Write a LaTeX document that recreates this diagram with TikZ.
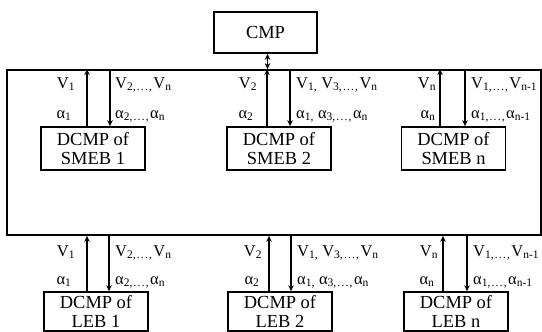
\documentclass[tikz,border=0pt]{standalone}
\usepackage{fontspec}
\setmainfont{Liberation Serif}
\usetikzlibrary{arrows.meta}

\newcommand{\sbs}[1]{\textsubscript{#1}}
\newcommand{\dts}{,\kern1.2pt.\kern1.2pt.\kern1.2pt.\kern1.2pt,\kern1pt}

\tikzset{
  blk/.style={draw,line width=1.7bp,minimum width=104bp,minimum height=43bp,
    inner sep=0pt,align=center,font=\fontsize{18.5}{19}\selectfont},
  sig/.style={line width=1.4bp},
  lbl/.style={inner sep=0pt,font=\fontsize{16.5}{17}\selectfont},
}

\begin{document}
\begin{tikzpicture}[x=1bp,y=-1bp,>={Stealth[length=6bp,width=5.5bp]}]
\clip (0,0) rectangle (542,331);
\node[blk,minimum width=103bp,minimum height=41bp] (cmp) at (265.5,32.5) {CMP};
\node[draw,line width=1.7bp,minimum width=534bp,minimum height=165bp,inner sep=0pt] (bus) at (274,152.5) {};
\draw[sig,<->] (cmp.south) ++(2,0) coordinate (c0) -- (c0 |- bus.north);

% upper blocks
\node[blk] (smeb1) at (93,148.5) {DCMP of\\SMEB 1};
\node[blk] (smeb2) at (279,148.5) {DCMP of\\SMEB 2};
\node[blk] (smebn) at (453.5,148.5) {DCMP of\\SMEB n};

\draw[sig,->] (smeb1.north) ++(-6,0) coordinate (u1) -- (u1 |- bus.north);
\draw[sig,<-] (smeb1.north) ++(17,0) coordinate (d1) -- (d1 |- bus.north);
\draw[sig,->] (smeb2.north) ++(-12,0) coordinate (u2) -- (u2 |- bus.north);
\draw[sig,<-] (smeb2.north) ++(11,0) coordinate (d2) -- (d2 |- bus.north);
\draw[sig,->] (smebn.north) ++(-13.5,0) coordinate (un) -- (un |- bus.north);
\draw[sig,<-] (smebn.north) ++(11.5,0) coordinate (dn) -- (dn |- bus.north);

\node[lbl,anchor=base] (v1) at (66,88) {V\sbs{1}};
\node[lbl,anchor=base] (a1) at (64,118) {α\sbs{1}};
\node[lbl,anchor=base west] (vr1) at (115,88) {V\sbs{2\dts}V\sbs{n}};
\node[lbl,anchor=base west] (ar1) at (115,118) {α\sbs{2\dts}α\sbs{n}};
\node[lbl,anchor=base] (v2) at (248,88) {V\sbs{2}};
\node[lbl,anchor=base] (a2) at (246,118) {α\sbs{2}};
\node[lbl,anchor=base west] (vr2) at (296,88) {V\sbs{1,} V\sbs{3\dts}V\sbs{n}};
\node[lbl,anchor=base west] (ar2) at (296,118) {α\sbs{1,} α\sbs{3\dts}α\sbs{n}};
\node[lbl,anchor=base] (vn) at (427,88) {V\sbs{n}};
\node[lbl,anchor=base] (an) at (428,118) {α\sbs{n}};
\node[lbl,anchor=base west] (vrn) at (471,88) {V\sbs{1\dts}V\sbs{n-1}};
\node[lbl,anchor=base west] (arn) at (471,118) {α\sbs{1\dts}α\sbs{n-1}};

% lower blocks
\node[blk,minimum height=39bp] (leb1) at (96,311.5) {DCMP of\\LEB 1};
\node[blk,minimum height=39bp] (leb2) at (280,311.5) {DCMP of\\LEB 2};
\node[blk,minimum height=39bp] (lebn) at (456,311.5) {DCMP of\\LEB n};

\draw[sig,->] (leb1.north) ++(-9,0) coordinate (lu1) -- (lu1 |- bus.south);
\draw[sig,<-] (leb1.north) ++(13,0) coordinate (ld1) -- (ld1 |- bus.south);
\draw[sig,->] (leb2.north) ++(-11,0) coordinate (lu2) -- (lu2 |- bus.south);
\draw[sig,<-] (leb2.north) ++(11,0) coordinate (ld2) -- (ld2 |- bus.south);
\draw[sig,->] (lebn.north) ++(-13,0) coordinate (lun) -- (lun |- bus.south);
\draw[sig,<-] (lebn.north) ++(11,0) coordinate (ldn) -- (ldn |- bus.south);

\node[lbl,anchor=base] (lv1) at (66,256) {V\sbs{1}};
\node[lbl,anchor=base] (la1) at (64,284) {α\sbs{1}};
\node[lbl,anchor=base west] (lvr1) at (115,256) {V\sbs{2\dts}V\sbs{n}};
\node[lbl,anchor=base west] (lar1) at (115,284) {α\sbs{2\dts}α\sbs{n}};
\node[lbl,anchor=base] (lv2) at (253,256) {V\sbs{2}};
\node[lbl,anchor=base] (la2) at (252,284) {α\sbs{2}};
\node[lbl,anchor=base west] (lvr2) at (297,256) {V\sbs{1,} V\sbs{3\dts}V\sbs{n}};
\node[lbl,anchor=base west] (lar2) at (297,284) {α\sbs{1,} α\sbs{3\dts}α\sbs{n}};
\node[lbl,anchor=base] (lvn) at (429,256) {V\sbs{n}};
\node[lbl,anchor=base] (lan) at (427,284) {α\sbs{n}};
\node[lbl,anchor=base west] (lvrn) at (473,256) {V\sbs{1\dts}V\sbs{n-1}};
\node[lbl,anchor=base west] (larn) at (473,284) {α\sbs{1\dts}α\sbs{n-1}};
\end{tikzpicture}
\end{document}
